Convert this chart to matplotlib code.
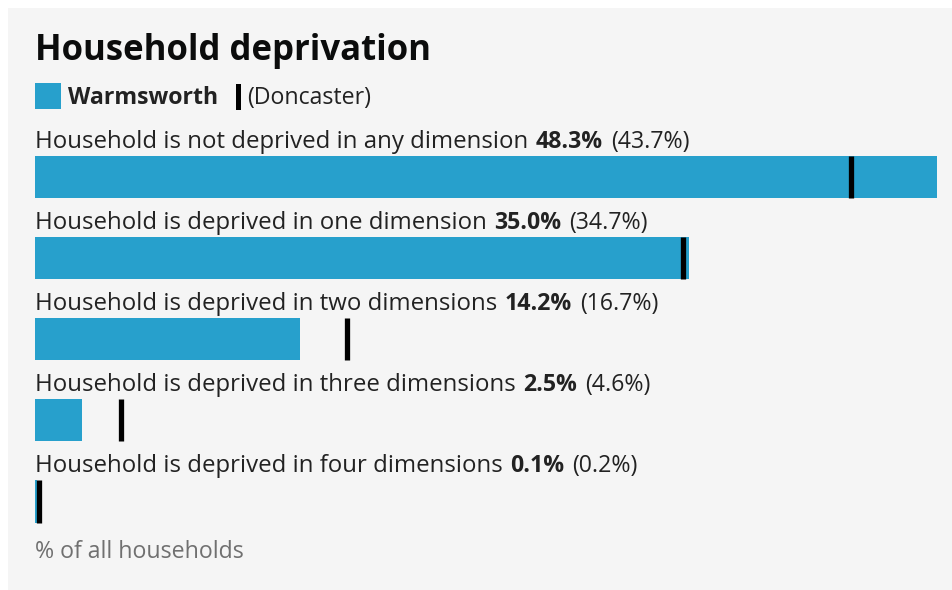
import matplotlib
matplotlib.use("Agg")
import matplotlib.pyplot as plt
from matplotlib.patches import Rectangle

categories = [
    "Household is not deprived in any dimension",
    "Household is deprived in one dimension",
    "Household is deprived in two dimensions",
    "Household is deprived in three dimensions",
    "Household is deprived in four dimensions",
]
warmsworth = [48.3, 35.0, 14.2, 2.5, 0.1]
doncaster = [43.7, 34.7, 16.7, 4.6, 0.2]
area_name = "Warmsworth"
compare_name = "Doncaster"
title = "Household deprivation"
axis_note = "% of all households"

BAR = "#27a0cc"
TXT = "#222222"
FS = 16.7
FS_LAB = 17.3
W, H = 952, 590
plt.rcParams['font.family'] = ['Open Sans', 'DejaVu Sans']

fig = plt.figure(figsize=(W / 100, H / 100), dpi=100, facecolor="white")

def fx(px):
    return px / W

def fy(py):
    return 1 - py / H

# panel background
fig.patches.append(Rectangle((fx(8), 0), 1 - fx(8), fy(8), transform=fig.transFigure,
                             facecolor="#f5f5f5", edgecolor="none", zorder=-5))

fig.text(fx(35), fy(60), title, fontsize=25, fontweight="bold", color="#0b0c0c",
         va="baseline", ha="left")

# legend
fig.patches.append(Rectangle((fx(35), fy(109)), fx(26), 26 / H, transform=fig.transFigure,
                             facecolor=BAR, edgecolor="none", zorder=2))
fig.text(fx(68), fy(104), area_name, fontsize=FS, fontweight="bold", color=TXT,
         va="baseline", ha="left")
fig.patches.append(Rectangle((fx(236), fy(110)), fx(5), 26 / H, transform=fig.transFigure,
                             facecolor="black", edgecolor="none", zorder=2))
fig.text(fx(247), fy(104), f"({compare_name})", fontsize=FS, color=TXT,
         va="baseline", ha="left")

ax = fig.add_axes([fx(35), fy(542), fx(937) - fx(35), fy(136.5) - fy(542)])
ax.set_facecolor("none")
ax.set_zorder(1)
ax.set_xlim(0, max(warmsworth))
ax.set_ylim(len(categories) - 0.5, -0.5)
ax.axis("off")

bh = 0.52
ys = list(range(len(categories)))
ax.barh(ys, warmsworth, height=bh, color=BAR, left=0, zorder=2)
ax.vlines(doncaster, [y - bh / 2 for y in ys], [y + bh / 2 for y in ys],
          colors="black", linewidth=3.8, zorder=3, capstyle="butt")

for y, cat, v, d in zip(ys, categories, warmsworth, doncaster):
    t1 = ax.text(0, y - bh / 2 - 0.1, cat, fontsize=FS_LAB, color=TXT,
                 va="baseline", ha="left", clip_on=False)
    t2 = ax.annotate(f"{v:.1f}%", xy=(1, 0), xycoords=t1, xytext=(5.5, 0),
                     textcoords="offset points", fontsize=FS, fontweight="bold",
                     color=TXT, va="bottom", ha="left", annotation_clip=False)
    ax.annotate(f"({d:.1f}%)", xy=(1, 0), xycoords=t2, xytext=(5.5, 0),
                textcoords="offset points", fontsize=FS, color=TXT,
                va="bottom", ha="left", annotation_clip=False)

fig.text(fx(35), fy(558), axis_note, fontsize=FS, color="#707070",
         va="baseline", ha="left")

fig.savefig("out.png", dpi=100, facecolor="white")
